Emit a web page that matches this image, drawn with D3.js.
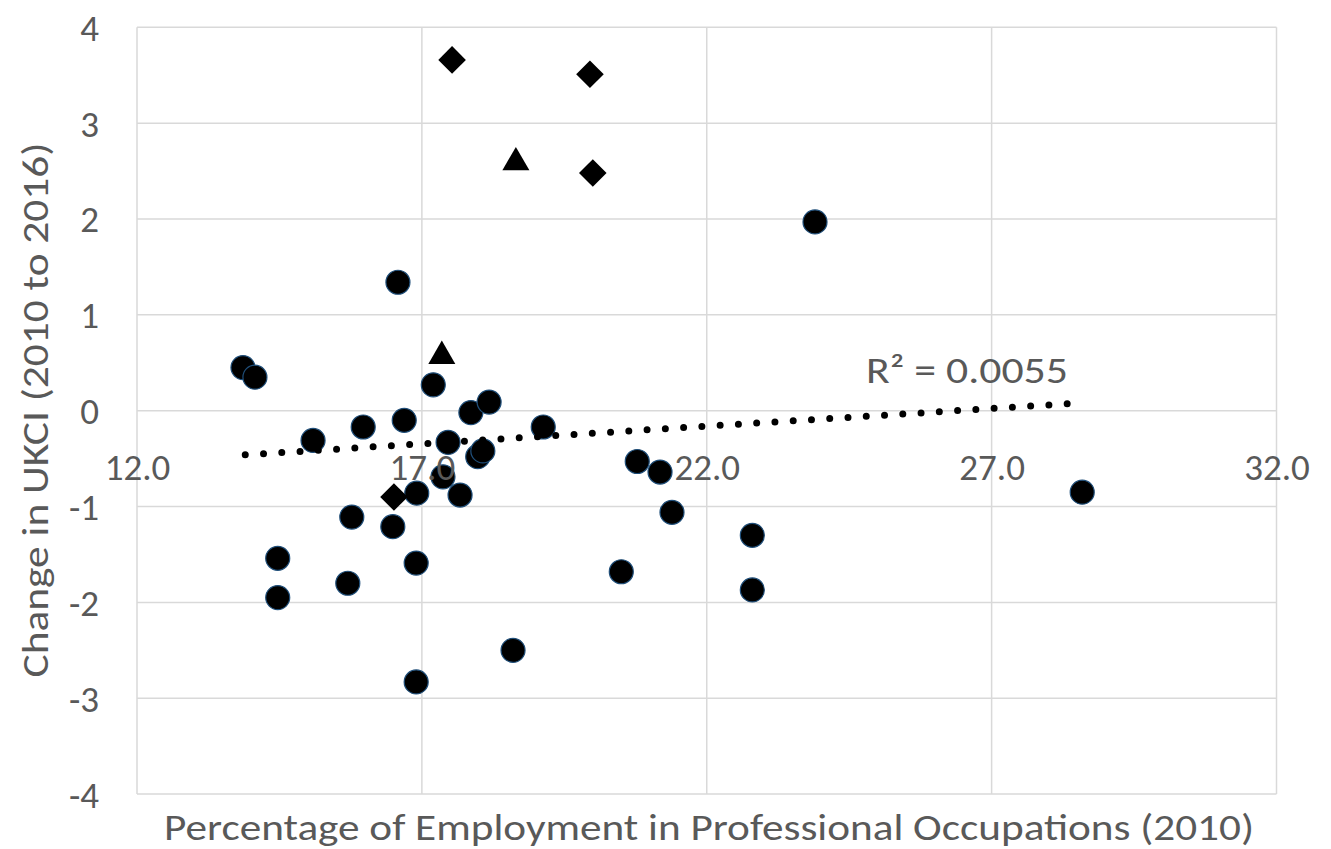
<!DOCTYPE html>
<html>
<head>
<meta charset="utf-8">
<script src="https://cdn.jsdelivr.net/npm/d3@7"></script>
<style>
  html, body { margin: 0; padding: 0; background: #ffffff; }
  svg text { font-family: Carlito, Calibri, Lato, "Open Sans", sans-serif; fill: #595959; }
</style>
</head>
<body>
<svg id="chart" width="1331" height="849"></svg>
<script>
// ---- data ----
const circleX = [13.86, 14.07, 15.09, 15.97, 16.69, 17.20, 16.58, 17.86, 18.18, 19.13, 17.46, 17.98, 18.07, 17.37, 16.91, 17.67, 15.77, 16.49, 16.90, 15.70, 14.47, 14.47, 16.90, 18.60, 20.78, 21.18, 21.39, 20.50, 22.80, 22.80, 23.90, 28.59];
const circleY = [0.45, 0.35, -0.31, -0.17, -0.10, 0.27, 1.34, -0.02, 0.09, -0.17, -0.33, -0.48, -0.42, -0.69, -0.86, -0.88, -1.11, -1.21, -1.59, -1.80, -1.54, -1.95, -2.83, -2.50, -0.53, -0.64, -1.06, -1.68, -1.30, -1.87, 1.97, -0.85];
const diamondX = [17.53, 19.95, 20.00, 16.51];
const diamondY = [3.66, 3.51, 2.48, -0.90];
const triangleX = [18.65, 17.35];
const triangleY = [2.63, 0.61];
const trendX = [13.90, 28.55];
const trendY = [-0.46, 0.08];
const xTicks = [12, 17, 22, 27, 32];
const yTicks = [-4, -3, -2, -1, 0, 1, 2, 3, 4];
const xTitle = "Percentage of Employment in Professional Occupations (2010)";
const yTitle = "Change in UKCI (2010 to 2016)";
const r2Label = "R² = 0.0055";

// ---- layout ----
const svg = d3.select("#chart");
svg.append("rect").attr("width", 1331).attr("height", 849).attr("fill", "#fff");

const x = d3.scaleLinear().domain([12, 32]).range([137, 1276.5]);
const y = d3.scaleLinear().domain([-4, 4]).range([794.1, 27.3]);

// gridlines
const grid = svg.append("g");
grid.selectAll("line.v").data(xTicks).join("line")
  .attr("x1", d => x(d)).attr("x2", d => x(d))
  .attr("y1", y(4)).attr("y2", y(-4))
  .attr("stroke", "#d9d9d9").attr("stroke-width", 1.5);
grid.selectAll("line.h").data(yTicks).join("line")
  .attr("x1", x(12)).attr("x2", x(32))
  .attr("y1", d => y(d)).attr("y2", d => y(d))
  .attr("stroke", "#d9d9d9").attr("stroke-width", 1.5);

// markers
const pts = svg.append("g");
const circlePts = circleX.map((v, i) => [v, circleY[i]]);
pts.selectAll("path.c").data(circlePts).join("path")
  .attr("d", d3.symbol(d3.symbolCircle, Math.PI * 12 * 12))
  .attr("transform", d => `translate(${x(d[0])},${y(d[1])})`)
  .attr("fill", "#000").attr("stroke", "#1f4e79").attr("stroke-width", 1.2);

const diamondPts = diamondX.map((v, i) => [v, diamondY[i]]);
pts.selectAll("path.d").data(diamondPts).join("path")
  .attr("d", d3.symbol(d3.symbolSquare, 19.5 * 19.5))
  .attr("transform", d => `translate(${x(d[0])},${y(d[1])}) rotate(45)`)
  .attr("fill", "#000");

const triSize = 27 * 27 * Math.sqrt(3) / 4;
const triH = 27 * Math.sqrt(3) / 2;
const triPts = triangleX.map((v, i) => [v, triangleY[i]]);
pts.selectAll("path.t").data(triPts).join("path")
  .attr("d", d3.symbol(d3.symbolTriangle, triSize))
  .attr("transform", d => `translate(${x(d[0])},${y(d[1]) + triH / 6})`)
  .attr("fill", "#000");

// trendline (dotted)
const trend = trendX.map((v, i) => [v, trendY[i]]);
svg.append("path")
  .attr("d", d3.line().x(d => x(d[0])).y(d => y(d[1]))(trend))
  .attr("fill", "none").attr("stroke", "#000")
  .attr("stroke-width", 7).attr("stroke-linecap", "round")
  .attr("stroke-dasharray", "0 18.3");

// R² label
svg.append("text")
  .attr("x", 866).attr("y", 383)
  .attr("font-size", 37)
  .attr("textLength", 202).attr("lengthAdjust", "spacingAndGlyphs")
  .text(r2Label);

// y axis labels (hyphen-minus like the reference)
const yAxis = d3.axisLeft(y).tickValues(yTicks).tickSize(0).tickPadding(0).tickFormat(d => String(d));
const gy = svg.append("g").attr("transform", "translate(99,0)").call(yAxis);
gy.select(".domain").remove();
gy.selectAll("text").attr("font-size", 37).attr("font-family", null)
  .attr("fill", "#595959").attr("dy", "0.35em").attr("x", 0);

// x axis labels (axis crosses at 0)
const xAxis = d3.axisBottom(x).tickValues(xTicks).tickSize(0).tickPadding(0).tickFormat(d => d.toFixed(1));
const gx = svg.append("g").attr("transform", `translate(0,${y(0)})`).call(xAxis);
gx.select(".domain").remove();
gx.selectAll("text").attr("font-size", 37).attr("font-family", null)
  .attr("fill", "#595959").attr("dy", 0).attr("y", 69.5);

// axis titles
svg.append("text")
  .attr("x", 709).attr("y", 840)
  .attr("text-anchor", "middle").attr("font-size", 37)
  .attr("textLength", 1090).attr("lengthAdjust", "spacingAndGlyphs")
  .text(xTitle);

svg.append("text")
  .attr("transform", "translate(48,410) rotate(-90)")
  .attr("text-anchor", "middle").attr("font-size", 37)
  .attr("textLength", 535).attr("lengthAdjust", "spacingAndGlyphs")
  .text(yTitle);
</script>
</body>
</html>
